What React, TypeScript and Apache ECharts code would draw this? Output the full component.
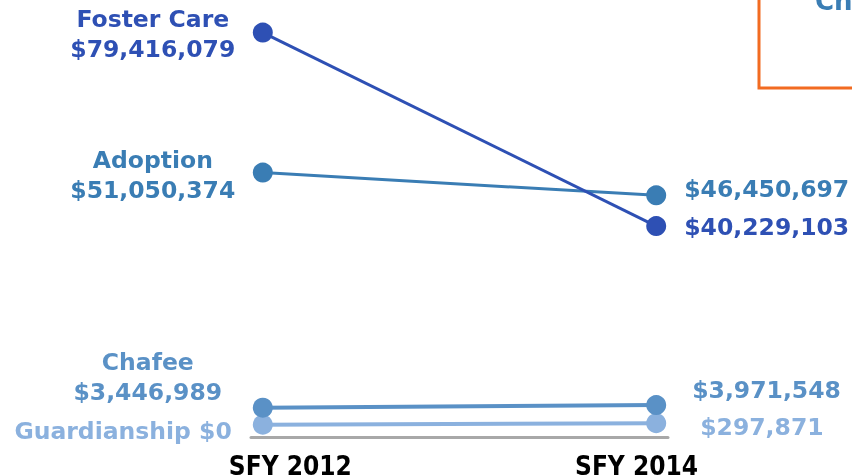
import React, { useEffect, useRef } from "react";
import * as echarts from "echarts";

const years = ["SFY 2012", "SFY 2014"];
const programs = ["Foster Care", "Adoption", "Chafee", "Guardianship"];
const sfy2012 = [79416079, 51050374, 3446989, 0];
const sfy2014 = [40229103, 46450697, 3971548, 297871];

const colors = ["#2E50B4", "#3A7DB4", "#5A91C6", "#8BB1DE"];
const lineWidths = [3, 3, 4, 4];
// label placement per program
const leftPlace = [
  { distance: 100, dy: 1, align: "center", twoLine: true },
  { distance: 100, dy: 2, align: "center", twoLine: true },
  { distance: 105, dy: -31, align: "center", twoLine: true },
  { distance: 21, dy: 6, align: "right", twoLine: false },
];
const rightPlace = [
  { distance: 18, dy: 1 },
  { distance: 18, dy: -6 },
  { distance: 26, dy: -15 },
  { distance: 34, dy: 4 },
];
// where the year labels sit along the x axis (axis units)
const yearLabelPos = [0.07, 0.95];

const fmt = (v: number) => "$" + v.toLocaleString("en-US");

export default function App() {
  const ref = useRef<HTMLDivElement>(null);
  useEffect(() => {
    if (!ref.current) return;
    const chart = echarts.init(ref.current, null, { renderer: "svg" });
    const labelFont = {
      fontFamily: "DejaVu Sans",
      fontWeight: "bold" as const,
      fontSize: 23.5,
      lineHeight: 30,
    };
    const series = programs
      .map((name, i) => {
        const lp = leftPlace[i];
        const rp = rightPlace[i];
        return {
          type: "line",
          name,
          z: 10 - i,
          symbol: "circle",
          symbolSize: 20,
          lineStyle: { color: colors[i], width: lineWidths[i] },
          itemStyle: { color: colors[i] },
          data: [
            {
              value: [0, sfy2012[i]],
              label: {
                show: true,
                position: "left",
                distance: lp.distance,
                align: lp.align,
                verticalAlign: "middle",
                offset: [0, lp.dy],
                color: colors[i],
                ...labelFont,
                formatter: lp.twoLine
                  ? name + "\n" + fmt(sfy2012[i])
                  : name + " " + fmt(sfy2012[i]),
              },
            },
            {
              value: [1, sfy2014[i]],
              label: {
                show: true,
                position: "right",
                distance: rp.distance,
                align: "left",
                verticalAlign: "middle",
                offset: [0, rp.dy],
                color: colors[i],
                ...labelFont,
                formatter: fmt(sfy2014[i]),
              },
            },
          ],
        };
      })
      .reverse();

    chart.setOption({
      animation: false,
      grid: {
        left: 251,
        right: 184,
        top: 5,
        bottom: 38,
        containLabel: false,
        outerBoundsMode: "none",
      },
      xAxis: {
        type: "value",
        min: -0.03,
        max: 1.03,
        splitLine: { show: false },
        axisTick: { show: false },
        axisLine: {
          show: true,
          onZero: false,
          lineStyle: { color: "#A8A8A8", width: 3 },
        },
        axisLabel: {
          customValues: yearLabelPos,
          formatter: (v: number) => years[v < 0.5 ? 0 : 1],
          color: "#000000",
          fontFamily: "DejaVu Sans Condensed",
          fontWeight: "bold",
          fontSize: 26,
          margin: 16,
        },
      },
      yAxis: {
        type: "value",
        min: -2500000,
        max: 85000000,
        show: false,
        splitLine: { show: false },
      },
      graphic: [
        {
          type: "rect",
          shape: { x: 759, y: -10, width: 200, height: 98 },
          style: { fill: "none", stroke: "#F26B21", lineWidth: 3 },
          z: 1,
        },
        {
          type: "text",
          x: 815,
          y: 14,
          style: {
            text: "Change",
            fill: "#3A7DB4",
            fontFamily: "DejaVu Sans",
            fontWeight: "bold",
            fontSize: 26,
            verticalAlign: "bottom",
          },
        },
      ],
      series,
    });
    return () => chart.dispose();
  }, []);
  return (
    <div
      ref={ref}
      style={{ position: "fixed", left: 0, top: 0, width: 852, height: 475 }}
    />
  );
}
